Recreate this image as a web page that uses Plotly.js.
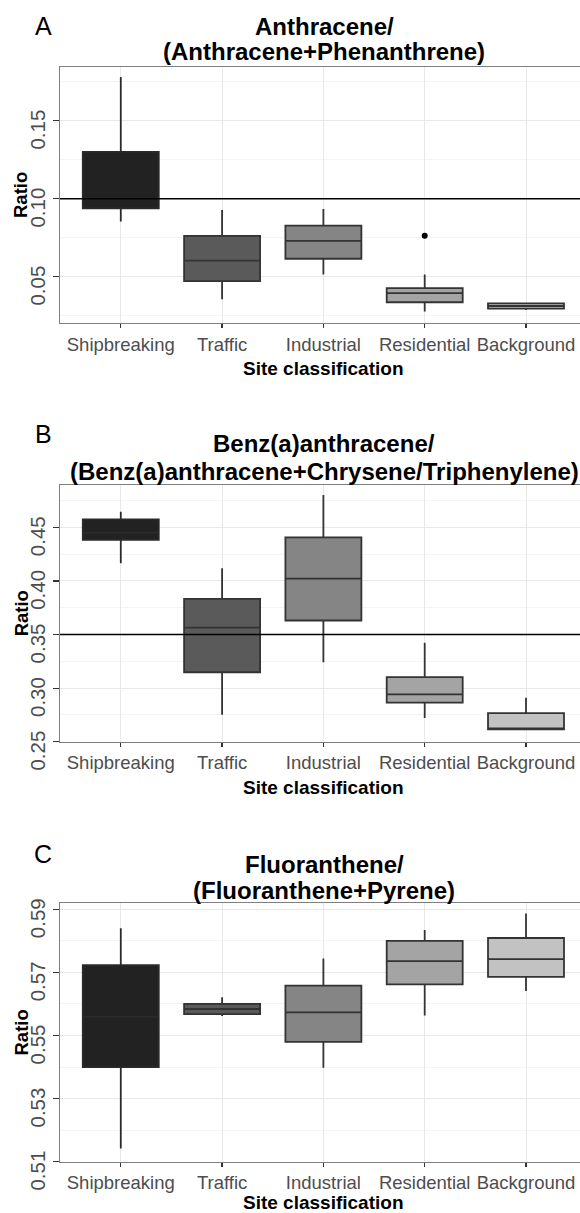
<!DOCTYPE html>
<html>
<head>
<meta charset="utf-8">
<script src="https://cdn.plot.ly/plotly-3.0.1.min.js"></script>
<style>html,body{margin:0;padding:0;background:#fff;overflow:hidden}</style>
</head>
<body>
<div id="chart" style="width:580px;height:1213px"></div>
<script>
// ---------- data ----------
var categories = ["Shipbreaking", "Traffic", "Industrial", "Residential", "Background"];
var fillColors = ["#222222", "#5a5a5a", "#858585", "#a4a4a4", "#c2c2c2"];

// Panel A: Anthracene/(Anthracene+Phenanthrene)
var A_lower  = [0.0853, 0.0355, 0.0514, 0.0276, 0.0287];
var A_q1     = [0.0938, 0.0472, 0.0615, 0.0336, 0.0295];
var A_median = [0.1000, 0.0603, 0.0729, 0.0394, 0.0312];
var A_q3     = [0.1300, 0.0761, 0.0827, 0.0426, 0.0329];
var A_upper  = [0.1780, 0.0928, 0.0934, 0.0514, 0.0329];
var A_outCat = ["Residential"];
var A_outVal = [0.0763];
var A_ref = 0.10;

// Panel B: Benz(a)anthracene/(Benz(a)anthracene+Chrysene/Triphenylene)
var B_lower  = [0.4164, 0.2752, 0.3241, 0.2720, 0.2612];
var B_q1     = [0.4384, 0.3148, 0.3631, 0.2864, 0.2615];
var B_median = [0.4450, 0.3565, 0.4021, 0.2941, 0.2625];
var B_q3     = [0.4575, 0.3832, 0.4407, 0.3103, 0.2767];
var B_upper  = [0.4646, 0.4118, 0.4801, 0.3423, 0.2910];
var B_ref = 0.35;

// Panel C: Fluoranthene/(Fluoranthene+Pyrene)
var C_lower  = [0.5142, 0.5562, 0.5398, 0.5563, 0.5641];
var C_q1     = [0.5400, 0.5568, 0.5480, 0.5662, 0.5686];
var C_median = [0.5560, 0.5584, 0.5573, 0.5736, 0.5742];
var C_q3     = [0.5723, 0.5600, 0.5658, 0.5800, 0.5809];
var C_upper  = [0.5840, 0.5621, 0.5744, 0.5834, 0.5887];

var panelLetters = ["A", "B", "C"];
var titleLine1 = ["Anthracene/", "Benz(a)anthracene/", "Fluoranthene/"];
var titleLine2 = ["(Anthracene+Phenanthrene)", "(Benz(a)anthracene+Chrysene/Triphenylene)", "(Fluoranthene+Pyrene)"];
var xTitle = "Site classification";
var yTitle = "Ratio";

// ---------- layout helpers ----------
var H = 1213;
function py(px){ return 1 - px / H; }
var FONT = "Liberation Sans, Arial, sans-serif";

var panels = [
  {lo:A_lower, q1:A_q1, med:A_median, q3:A_q3, hi:A_upper, ref:A_ref,
   top:67, bot:323, range:[0.0203, 0.1844], dtick:0.05, tick0:0, mdtick:0.025,
   letterY:26, l1Y:26, l2Y:52, xtY:368},
  {lo:B_lower, q1:B_q1, med:B_median, q3:B_q3, hi:B_upper, ref:B_ref,
   top:485, bot:741.7, range:[0.25, 0.4895], dtick:0.05, tick0:0, mdtick:0.025,
   letterY:434, l1Y:443, l2Y:471, xtY:787},
  {lo:C_lower, q1:C_q1, med:C_median, q3:C_q3, hi:C_upper, ref:null,
   top:903.3, bot:1161.7, range:[0.51, 0.5919], dtick:0.02, tick0:0.51, mdtick:0.01,
   letterY:854, l1Y:864, l2Y:890, xtY:1202}
];

var traces = [];
var layout = {
  width: 580, height: 1213,
  margin: {l:60, r:0, t:0, b:0},
  paper_bgcolor: "#ffffff", plot_bgcolor: "#ffffff",
  showlegend: false,
  font: {family: FONT, color: "#000"},
  boxmode: "overlay",
  annotations: [], shapes: []
};

panels.forEach(function(p, k){
  var n = k + 1;
  var xa = "x" + (n === 1 ? "" : n), ya = "y" + (n === 1 ? "" : n);
  categories.forEach(function(c, i){
    traces.push({
      type: "box", x: [c], q1: [p.q1[i]], median: [p.med[i]], q3: [p.q3[i]],
      lowerfence: [p.lo[i]], upperfence: [p.hi[i]],
      fillcolor: fillColors[i], line: {color: i === 0 ? "#2a2a2a" : "#333333", width: 1.8},
      whiskerwidth: 0, width: 0.75, boxpoints: false,
      xaxis: xa, yaxis: ya, hoverinfo: "skip", showlegend: false
    });
  });
  if (k === 0) {
    traces.push({type: "scatter", mode: "markers", x: A_outCat, y: A_outVal,
      marker: {color: "#000", size: 6}, xaxis: xa, yaxis: ya, hoverinfo: "skip"});
  }
  var xkey = "xaxis" + (n === 1 ? "" : n), ykey = "yaxis" + (n === 1 ? "" : n);
  layout[xkey] = {
    type: "category", categoryorder: "array", categoryarray: categories,
    range: [-0.6, 4.533], anchor: ya, domain: [0, 1],
    showline: true, mirror: true, linecolor: "#7f7f7f", linewidth: 1.3,
    ticks: "outside", ticklen: 4, tickcolor: "#333333", tickwidth: 1.2,
    showgrid: true, gridcolor: "#e8e8e8", gridwidth: 1,
    tickfont: {family: FONT, size: 18.5, color: "#4d4d4d"},
    fixedrange: true, zeroline: false
  };
  layout[ykey] = {
    range: p.range, anchor: xa,
    domain: [py(p.bot), py(p.top)],
    showline: true, mirror: false, linecolor: "#7f7f7f", linewidth: 1.3,
    ticks: "outside", ticklen: 6, tickcolor: "#333333", tickwidth: 1.2,
    tick0: p.tick0, dtick: p.dtick, tickformat: ".2f", tickangle: -90,
    ticklabelshift: 12, ticklabelstandoff: 0,
    showgrid: true, gridcolor: "#e8e8e8", gridwidth: 1,
    minor: {tick0: p.tick0, dtick: p.mdtick, showgrid: true, gridcolor: "#f4f4f4", gridwidth: 1, ticks: ""},
    tickfont: {family: FONT, size: 20.5, color: "#4d4d4d"},
    zeroline: false, fixedrange: true
  };
  if (p.ref !== null) {
    layout.shapes.push({type: "line", xref: xa + " domain", x0: 0, x1: 1,
      yref: ya, y0: p.ref, y1: p.ref, line: {color: "#000", width: 1.5}, layer: "above"});
  }
  var ann = layout.annotations;
  ann.push({text: panelLetters[k], xref: "paper", yref: "paper", x: (43 - 60) / 520, y: py(p.letterY),
    xanchor: "center", yanchor: "middle", showarrow: false,
    font: {family: FONT, size: 25, color: "#000"}});
  ann.push({text: "<b>" + titleLine1[k] + "</b>", xref: "paper", yref: "paper", x: (324 - 60) / 520, y: py(p.l1Y),
    xanchor: "center", yanchor: "middle", showarrow: false,
    font: {family: FONT, size: 24, color: "#000"}});
  ann.push({text: "<b>" + titleLine2[k] + "</b>", xref: "paper", yref: "paper", x: (324 - 60) / 520, y: py(p.l2Y),
    xanchor: "center", yanchor: "middle", showarrow: false,
    font: {family: FONT, size: 24, color: "#000"}});
  ann.push({text: "<b>" + xTitle + "</b>", xref: "paper", yref: "paper", x: (323 - 60) / 520, y: py(p.xtY),
    xanchor: "center", yanchor: "middle", showarrow: false,
    font: {family: FONT, size: 19, color: "#000"}});
  ann.push({text: "<b>" + yTitle + "</b>", xref: "paper", yref: "paper", x: (21 - 60) / 520, y: py((p.top + p.bot) / 2),
    xanchor: "center", yanchor: "middle", showarrow: false, textangle: -90,
    font: {family: FONT, size: 18.5, color: "#000"}});
});

Plotly.newPlot("chart", traces, layout, {displayModeBar: false, staticPlot: true});
</script>
</body>
</html>
